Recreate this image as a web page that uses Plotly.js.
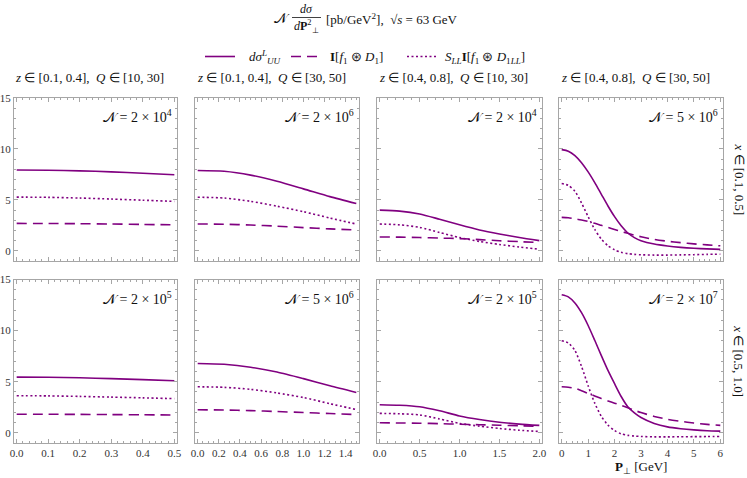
<!DOCTYPE html>
<html><head><meta charset="utf-8">
<script src="https://cdn.plot.ly/plotly-3.0.1.min.js"></script>
<style>html,body{margin:0;padding:0;background:#fff}</style>
</head><body><div id="chart" style="width:747px;height:478px"></div>
<script>
// ---------- data ----------
const pA = [0, 0.1, 0.2, 0.3, 0.4, 0.5];
const pB = [0, 0.25, 0.5, 0.75, 1.0, 1.25, 1.5];
const pC = [0, 0.25, 0.5, 0.75, 1.0, 1.25, 1.5, 1.75, 2.0];
const pD = [0, 0.25, 0.5, 0.75, 1, 1.25, 1.5, 1.75, 2, 2.25, 2.5, 2.75, 3, 3.5, 4, 4.5, 5, 5.5, 6];

// row 1: x in [0.1,0.5]
const solid_11 = [7.93, 7.91, 7.85, 7.75, 7.62, 7.46];
const dash_11  = [2.69, 2.68, 2.66, 2.63, 2.59, 2.55];
const dot_11   = [5.27, 5.25, 5.18, 5.08, 4.97, 4.85];

const solid_12 = [7.89, 7.81, 7.43, 6.82, 6.08, 5.32, 4.64];
const dash_12  = [2.63, 2.61, 2.53, 2.42, 2.28, 2.15, 2.04];
const dot_12   = [5.26, 5.18, 4.86, 4.38, 3.84, 3.22, 2.63];

const solid_13 = [3.99, 3.9, 3.62, 3.1, 2.55, 2.05, 1.65, 1.3, 1.0];
const dash_13  = [1.36, 1.34, 1.3, 1.25, 1.2, 1.1, 0.99, 0.9, 0.81];
const dot_13   = [2.63, 2.55, 2.3, 1.8, 1.3, 0.92, 0.62, 0.37, 0.16];

const solid_14 = [9.93, 9.78, 9.35, 8.65, 7.75, 6.7, 5.55, 4.4, 3.35, 2.45, 1.75, 1.3, 1.0, 0.66, 0.47, 0.34, 0.25, 0.19, 0.14];
const dash_14  = [3.28, 3.24, 3.14, 3.02, 2.88, 2.7, 2.5, 2.3, 2.1, 1.9, 1.72, 1.54, 1.38, 1.12, 0.94, 0.8, 0.68, 0.58, 0.49];
const dot_14   = [6.6, 6.42, 5.85, 4.7, 3.35, 2.1, 1.15, 0.5, 0.1, -0.15, -0.28, -0.35, -0.39, -0.42, -0.42, -0.4, -0.38, -0.35, -0.33];

// row 2: x in [0.5,1.0]
const solid_21 = [5.45, 5.43, 5.38, 5.3, 5.2, 5.09];
const dash_21  = [1.82, 1.81, 1.8, 1.78, 1.76, 1.74];
const dot_21   = [3.63, 3.61, 3.56, 3.49, 3.42, 3.34];

const solid_22 = [6.78, 6.7, 6.42, 5.95, 5.3, 4.6, 3.95];
const dash_22  = [2.25, 2.23, 2.17, 2.08, 1.98, 1.88, 1.78];
const dot_22   = [4.5, 4.45, 4.25, 3.9, 3.45, 2.85, 2.27];

const solid_23 = [2.75, 2.7, 2.55, 2.15, 1.65, 1.3, 1.03, 0.85, 0.72];
const dash_23  = [0.98, 0.96, 0.94, 0.89, 0.84, 0.79, 0.74, 0.69, 0.64];
const dot_23   = [1.9, 1.86, 1.75, 1.35, 0.92, 0.65, 0.42, 0.25, 0.13];

const solid_24 = [13.5, 13.3, 12.7, 11.75, 10.5, 9.05, 7.55, 6.1, 4.8, 3.55, 2.55, 1.95, 1.5, 0.92, 0.58, 0.4, 0.28, 0.2, 0.16];
const dash_24  = [4.5, 4.46, 4.35, 4.12, 3.85, 3.6, 3.35, 3.12, 2.9, 2.68, 2.45, 2.2, 1.98, 1.6, 1.32, 1.12, 0.95, 0.82, 0.72];
const dot_24   = [9.0, 8.8, 8.05, 6.5, 4.6, 2.9, 1.6, 0.75, 0.22, -0.1, -0.25, -0.32, -0.36, -0.4, -0.4, -0.39, -0.38, -0.37, -0.36];

const normLabels = ["2 × 10<sup>4</sup>", "2 × 10<sup>6</sup>", "2 × 10<sup>4</sup>", "5 × 10<sup>6</sup>",
                    "2 × 10<sup>5</sup>", "5 × 10<sup>6</sup>", "2 × 10<sup>5</sup>", "2 × 10<sup>7</sup>"];
const colTitles = ["<i>z</i> ∈ [0.1, 0.4],  <i>Q</i> ∈ [10, 30]", "<i>z</i> ∈ [0.1, 0.4],  <i>Q</i> ∈ [30, 50]",
                   "<i>z</i> ∈ [0.4, 0.8],  <i>Q</i> ∈ [10, 30]", "<i>z</i> ∈ [0.4, 0.8],  <i>Q</i> ∈ [30, 50]"];
const rowTitles = ["<i>x</i> ∈ [0.1, 0.5]", "<i>x</i> ∈ [0.5, 1.0]"];
const seriesNames = ["<i>dσ</i><sup><i>L</i></sup><sub><i>UU</i></sub>",
                     "<b>I</b>[<i>f</i><sub>1</sub> ⊛ <i>D</i><sub>1</sub>]",
                     "<i>S</i><sub><i>LL</i></sub><b>I</b>[<i>f</i><sub>1</sub> ⊛ <i>D</i><sub>1<i>LL</i></sub>]"];

// ---------- layout helpers ----------
const W = 747, H = 478;
const L = 14, R = 723, T = 98, B = 443;
const px = x => (x - L) / (R - L);
const py = y => 1 - (y - T) / (B - T);
const colPx = [[14, 177], [195, 359], [377, 542], [559, 723]];
const rowPx = [[98, 261], [279.5, 443]];
const xMax = [0.5, 1.5, 2.0, 6.0];
const xDtick = [0.1, 0.2, 0.5, 1];
const xMinor = [0.02, 0.05, 0.1, 0.2];
const xFmt = [".1f", ".1f", ".1f", "d"];

const PURPLE = "#800080";
const FRAME = "#a6a6a6";
const SERIF = "Liberation Serif, Times New Roman, serif";

const pGrid = [pA, pB, pC, pD];
const panels = [
  [solid_11, dash_11, dot_11], [solid_12, dash_12, dot_12], [solid_13, dash_13, dot_13], [solid_14, dash_14, dot_14],
  [solid_21, dash_21, dot_21], [solid_22, dash_22, dot_22], [solid_23, dash_23, dot_23], [solid_24, dash_24, dot_24]
];
const dashes = ["solid", "10px,6px", "2px,2.5px"];

const traces = [];
const layout = {
  width: W, height: H,
  margin: {l: L, r: W - R, t: T, b: H - B, pad: 0},
  paper_bgcolor: "#fff", plot_bgcolor: "#fff",
  font: {family: SERIF, size: 13, color: "#222"},
  showlegend: false,
  annotations: [], shapes: []
};

panels.forEach((series, i) => {
  const r = Math.floor(i / 4), c = i % 4;
  const n = i + 1;
  const xa = "x" + (n === 1 ? "" : n), ya = "y" + (n === 1 ? "" : n);
  series.forEach((vals, k) => {
    traces.push({
      x: pGrid[c], y: vals, xaxis: xa, yaxis: ya, type: "scatter", mode: "lines",
      line: {color: PURPLE, width: 1.6, dash: dashes[k], shape: "spline", smoothing: 0.7},
      name: seriesNames[k], showlegend: false, hoverinfo: "skip"
    });
  });
  const pad = xMax[c] * 0.017;
  const common = {
    showline: true, mirror: "allticks", linecolor: FRAME, linewidth: 1,
    ticks: "inside", ticklen: 4, tickwidth: 1, tickcolor: FRAME,
    showgrid: false, zeroline: false,
    tickfont: {family: SERIF, size: 11, color: "#333"}
  };
  layout["xaxis" + (n === 1 ? "" : n)] = Object.assign({}, common, {
    domain: [px(colPx[c][0]), px(colPx[c][1])],
    anchor: ya, range: [-pad, xMax[c] + pad],
    tick0: 0, dtick: xDtick[c], tickformat: xFmt[c],
    showticklabels: r === 1,
    minor: {dtick: xMinor[c], tick0: 0, ticks: "inside", ticklen: 2, tickcolor: FRAME, showgrid: false}
  });
  layout["yaxis" + (n === 1 ? "" : n)] = Object.assign({}, common, {
    domain: [py(rowPx[r][1]), py(rowPx[r][0])],
    anchor: xa, range: [-1, 15],
    tick0: 0, dtick: 5,
    showticklabels: c === 0,
    minor: {dtick: 1, tick0: 0, ticks: "inside", ticklen: 2, tickcolor: FRAME, showgrid: false}
  });
  layout.annotations.push({
    xref: "paper", yref: "paper", x: px(colPx[c][1] - 3), y: py(rowPx[r][0] + 18.5),
    xanchor: "right", yanchor: "middle", showarrow: false,
    text: "𝒩 = " + normLabels[i], font: {family: SERIF, size: 14, color: "#111"}
  });
});

// ---------- legend (drawn by hand so item spacing matches) ----------
const legendLines = [[205, 235], [291, 320], [407, 437]];
const legendTextX = [247, 328, 443];
seriesNames.forEach((nm, k) => {
  layout.shapes.push({type: "line", xref: "paper", yref: "paper",
    x0: px(legendLines[k][0]), x1: px(legendLines[k][1]), y0: py(56.5), y1: py(56.5),
    line: {color: PURPLE, width: 1.6, dash: dashes[k]}});
  layout.annotations.push({xref: "paper", yref: "paper", x: px(legendTextX[k]), y: py(57),
    xanchor: "left", yanchor: "middle", showarrow: false, text: nm,
    font: {family: SERIF, size: 13, color: "#111"}});
});

colTitles.forEach((t, c) => {
  layout.annotations.push({
    xref: "paper", yref: "paper", x: px((colPx[c][0] + colPx[c][1]) / 2 - 6), y: py(78),
    xanchor: "center", yanchor: "middle", showarrow: false, text: t,
    font: {family: SERIF, size: 13, color: "#111"}
  });
});
rowTitles.forEach((t, r) => {
  layout.annotations.push({
    xref: "paper", yref: "paper", x: px(739), y: py((rowPx[r][0] + rowPx[r][1]) / 2),
    xanchor: "center", yanchor: "middle", showarrow: false, text: t, textangle: 90,
    font: {family: SERIF, size: 13, color: "#111"}
  });
});
// x axis title
layout.annotations.push({
  xref: "paper", yref: "paper", x: px(641), y: py(467), xanchor: "center", yanchor: "middle",
  showarrow: false, text: "<b>P</b><sub>⊥</sub> [GeV]", font: {family: SERIF, size: 13, color: "#111"}
});
// main title (fraction built from text pieces)
layout.annotations.push(
  {xref: "paper", yref: "paper", x: px(292), y: py(19), xanchor: "right", yanchor: "middle", showarrow: false,
   text: "𝒩", font: {family: SERIF, size: 14, color: "#111"}},
  {xref: "paper", yref: "paper", x: px(306), y: py(9), xanchor: "center", yanchor: "middle", showarrow: false,
   text: "<i>dσ</i>", font: {family: SERIF, size: 12, color: "#111"}},
  {xref: "paper", yref: "paper", x: px(306), y: py(27), xanchor: "center", yanchor: "middle", showarrow: false,
   text: "<i>d</i><b>P</b><sup>2</sup><sub>⊥</sub>", font: {family: SERIF, size: 12, color: "#111"}},
  {xref: "paper", yref: "paper", x: px(324), y: py(19), xanchor: "left", yanchor: "middle", showarrow: false,
   text: "[pb/GeV<sup>2</sup>],  √<i>s</i> = 63 GeV",
   font: {family: SERIF, size: 13, color: "#111"}}
);
layout.shapes.push({type: "line", xref: "paper", yref: "paper", x0: px(292), x1: px(321), y0: py(17.5), y1: py(17.5),
                    line: {color: "#111", width: 0.8}});

Plotly.newPlot("chart", traces, layout, {displayModeBar: false, staticPlot: true});
</script></body></html>
